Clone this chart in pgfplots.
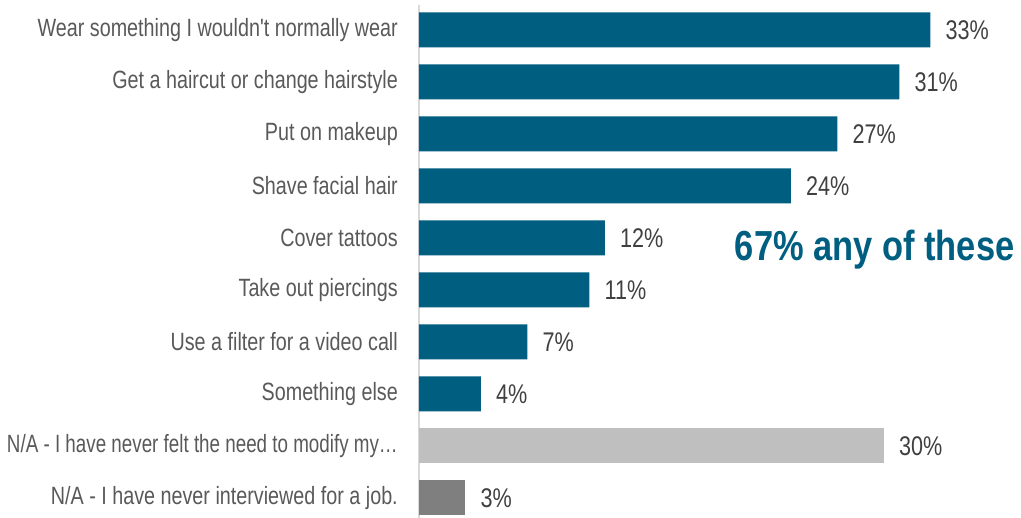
\documentclass[border=0pt]{standalone}
\usepackage{fontspec}
\usepackage{pgfplots}
\pgfplotsset{compat=1.18}
\newfontfamily\labfont{Liberation Sans}[FakeStretch=0.79]
\newfontfamily\labfontn{Liberation Sans}[FakeStretch=0.752]
\newfontfamily\numfont{Liberation Sans}[FakeStretch=0.8]
\newfontfamily\notefont{Liberation Sans}[FakeStretch=0.82]
\definecolor{barblue}{RGB}{0,94,128}
\definecolor{lightbar}{RGB}{191,191,191}
\definecolor{darkbar}{RGB}{127,127,127}
\definecolor{labgray}{RGB}{89,89,89}
\definecolor{numgray}{RGB}{64,64,64}
\definecolor{axisgray}{RGB}{217,217,217}
\begin{document}
\begin{tikzpicture}
  \begin{axis}[
      name=a,
      xbar,
      scale only axis,
      width=589bp,
      height=513bp,
      xmin=0, xmax=38,
      ymin=-0.48, ymax=9.385,
      y dir=reverse,
      bar width=35bp,
      axis x line=none,
      axis y line*=left,
      y axis line style={draw=axisgray, line width=1.5bp, -},
      ytick={0,...,9},
      yticklabels={
        Wear something I wouldn't normally wear,
        Get a haircut or change hairstyle,
        Put on makeup,
        Shave facial hair,
        Cover tattoos,
        Take out piercings,
        Use a filter for a video call,
        Something else,
        {\labfontn N/A - I have never felt the need to modify my…},
        N/A - I have never interviewed for a job.},
      major tick length=0pt,
      yticklabel style={font=\labfont\fontsize{25bp}{30bp}\selectfont, text=labgray,
        anchor=east, inner sep=0pt, xshift=-21bp},
      /pgf/number format/assume math mode=true,
      nodes near coords={\pgfmathprintnumber{\pgfplotspointmeta}\%},
      nodes near coords style={font=\numfont\fontsize{27bp}{32bp}\selectfont,
        text=numgray, anchor=west, inner sep=0pt, xshift=15bp},
      clip=false,
    ]
    \addplot[fill=barblue, draw=none, bar shift=0pt] coordinates {
      (33,0) (31,1) (27,2) (24,3) (12,4) (11,5) (7,6) (4,7)
    };
    \addplot[fill=lightbar, draw=none, bar shift=0pt] coordinates {(30,8)};
    \addplot[fill=darkbar, draw=none, bar shift=0pt] coordinates {(3,9)};
    \node[font=\notefont\bfseries\fontsize{42bp}{48bp}\selectfont, text=barblue]
      at (axis cs:29.4,4.23) {67\% any of these};
  \end{axis}
  \pgfresetboundingbox
  \path[use as bounding box] ([xshift=-419bp]a.south west)
    rectangle ([xshift=13bp,yshift=5bp]a.north east);
\end{tikzpicture}
\end{document}
